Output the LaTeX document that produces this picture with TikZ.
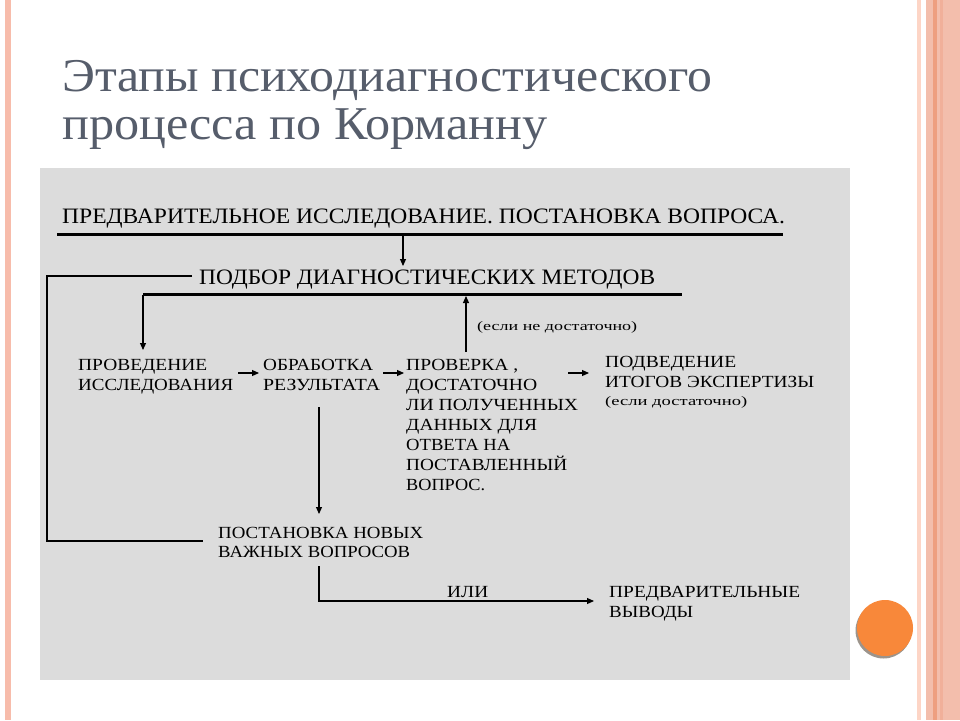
\documentclass[tikz,border=0pt]{standalone}
\usepackage{fontspec}
\setmainfont{Liberation Serif}
\usetikzlibrary{arrows.meta}
\definecolor{bgbox}{HTML}{DCDCDC}
\definecolor{stripe}{HTML}{F7BCAB}
\definecolor{band}{HTML}{F3BEAC}
\definecolor{bandd}{HTML}{EE9F80}
\definecolor{bandm}{HTML}{F1B09A}
\definecolor{pale}{HTML}{FDD5C6}
\definecolor{titlec}{HTML}{565D6B}
\definecolor{orangec}{HTML}{F8883A}
\definecolor{shadowc}{HTML}{9C948C}
\newcommand{\lw}[2]{\resizebox{#1pt}{\height}{#2}}
\begin{document}
\begin{tikzpicture}[x=1pt,y=-1pt,
  txt/.style={inner sep=0, anchor=base west, font=\fontsize{17}{17}\selectfont},
  big/.style={txt, font=\fontsize{22}{22}\selectfont},
  small/.style={txt, font=\fontsize{13}{13}\selectfont},
  ttl/.style={inner sep=0, anchor=base west, text=titlec, font=\fontsize{47}{47}\selectfont},
  rule/.style={line width=3pt},
  conn/.style={line width=1.1pt},
  arr/.style={conn, -{Triangle[length=7pt,width=6pt]}}]
\useasboundingbox (0,0) rectangle (960,720);
\fill[white] (0,0) rectangle (960,720);
% decorative frame
\fill[stripe] (5,0) rectangle (11,720);
\fill[pale] (917,0) rectangle (921,720);
\fill[band] (926,0) rectangle (960,720);
\fill[bandd] (933,0) rectangle (937,720);
\fill[bandm] (940,0) rectangle (943,720);
\fill[shadowc] (883.5,630.5) circle (28);
\fill[orangec] (885,628) circle (28);
% title
\node[ttl] (title1) at (62,91) {\lw{650}{Этапы психодиагностического}};
\node[ttl] (title2) at (62,139) {\lw{485}{процесса по Корманну}};
% grey panel
\fill[bgbox] (40,168) rectangle (850,680);
% texts
\node[big] (pre) at (62,223) {\lw{723}{ПРЕДВАРИТЕЛЬНОЕ ИССЛЕДОВАНИЕ. ПОСТАНОВКА ВОПРОСА.}};
\node[big] (pod) at (199,284) {\lw{456}{ПОДБОР ДИАГНОСТИЧЕСКИХ МЕТОДОВ}};
\node[small] (nedost) at (477,330) {\lw{160}{(если не достаточно)}};
\node[txt] (prov1) at (78,370) {\lw{129}{ПРОВЕДЕНИЕ}};
\node[txt] (prov2) at (78,390) {\lw{155}{ИССЛЕДОВАНИЯ}};
\node[txt] (obr1) at (263,370) {\lw{110}{ОБРАБОТКА}};
\node[txt] (obr2) at (263,390) {\lw{117}{РЕЗУЛЬТАТА}};
\node[txt] (chk1) at (406,370) {\lw{112}{ПРОВЕРКА ,}};
\node[txt] (chk2) at (406,390) {\lw{131}{ДОСТАТОЧНО}};
\node[txt] (chk3) at (406,410) {\lw{172}{ЛИ ПОЛУЧЕННЫХ}};
\node[txt] (chk4) at (406,430) {\lw{131}{ДАННЫХ ДЛЯ}};
\node[txt] (chk5) at (406,450) {\lw{104}{ОТВЕТА НА}};
\node[txt] (chk6) at (406,470) {\lw{161}{ПОСТАВЛЕННЫЙ}};
\node[txt] (chk7) at (406,490) {\lw{79}{ВОПРОС.}};
\node[txt] (itg1) at (605,367) {\lw{131}{ПОДВЕДЕНИЕ}};
\node[txt] (itg2) at (605,387) {\lw{209}{ИТОГОВ ЭКСПЕРТИЗЫ}};
\node[small] (dost) at (605,405) {\lw{142}{(если достаточно)}};
\node[txt] (new1) at (218,538) {\lw{205}{ПОСТАНОВКА НОВЫХ}};
\node[txt] (new2) at (218,557) {\lw{192}{ВАЖНЫХ ВОПРОСОВ}};
\node[txt] (ili) at (447,597) {\lw{41}{ИЛИ}};
\node[txt] (vyv1) at (609,597) {\lw{191}{ПРЕДВАРИТЕЛЬНЫЕ}};
\node[txt] (vyv2) at (609,617) {\lw{84}{ВЫВОДЫ}};
% connector points
\coordinate (r1a) at (57,234);
\coordinate (r1b) at (783,234);
\coordinate (r2a) at (143,294.5);
\coordinate (r2b) at (682,294.5);
\coordinate (a1s) at (403,235.5);
\coordinate (a1e) at (403,266);
\coordinate (l1a) at (192,276);
\coordinate (l1b) at (47,276);
\coordinate (l1c) at (47,541);
\coordinate (l1d) at (203,541);
\coordinate (a2e) at (143,350);
\coordinate (a3s) at (466,352);
\coordinate (a3e) at (466,296);
\coordinate (h1s) at (238,373);
\coordinate (h1e) at (259,373);
\coordinate (h2s) at (383,373);
\coordinate (h2e) at (404,373);
\coordinate (h3s) at (568,373);
\coordinate (h3e) at (589,373);
\coordinate (v1s) at (319,407);
\coordinate (v1e) at (319,514);
\coordinate (v2s) at (319,566);
\coordinate (v2c) at (319,601);
\coordinate (v2e) at (594,601);
% rules and connectors
\draw[rule] (r1a) -- (r1b);
\draw[rule] (r2a) -- (r2b);
\draw[arr] (a1s) -- (a1e);
\draw[conn] (l1a) -- (l1b) -- (l1c) -- (l1d);
\draw[arr] (r2a) -- (a2e);
\draw[arr] (a3s) -- (a3e);
\draw[arr] (h1s) -- (h1e);
\draw[arr] (h2s) -- (h2e);
\draw[arr] (h3s) -- (h3e);
\draw[arr] (v1s) -- (v1e);
\draw[arr] (v2s) -- (v2c) -- (v2e);
\end{tikzpicture}
\end{document}
